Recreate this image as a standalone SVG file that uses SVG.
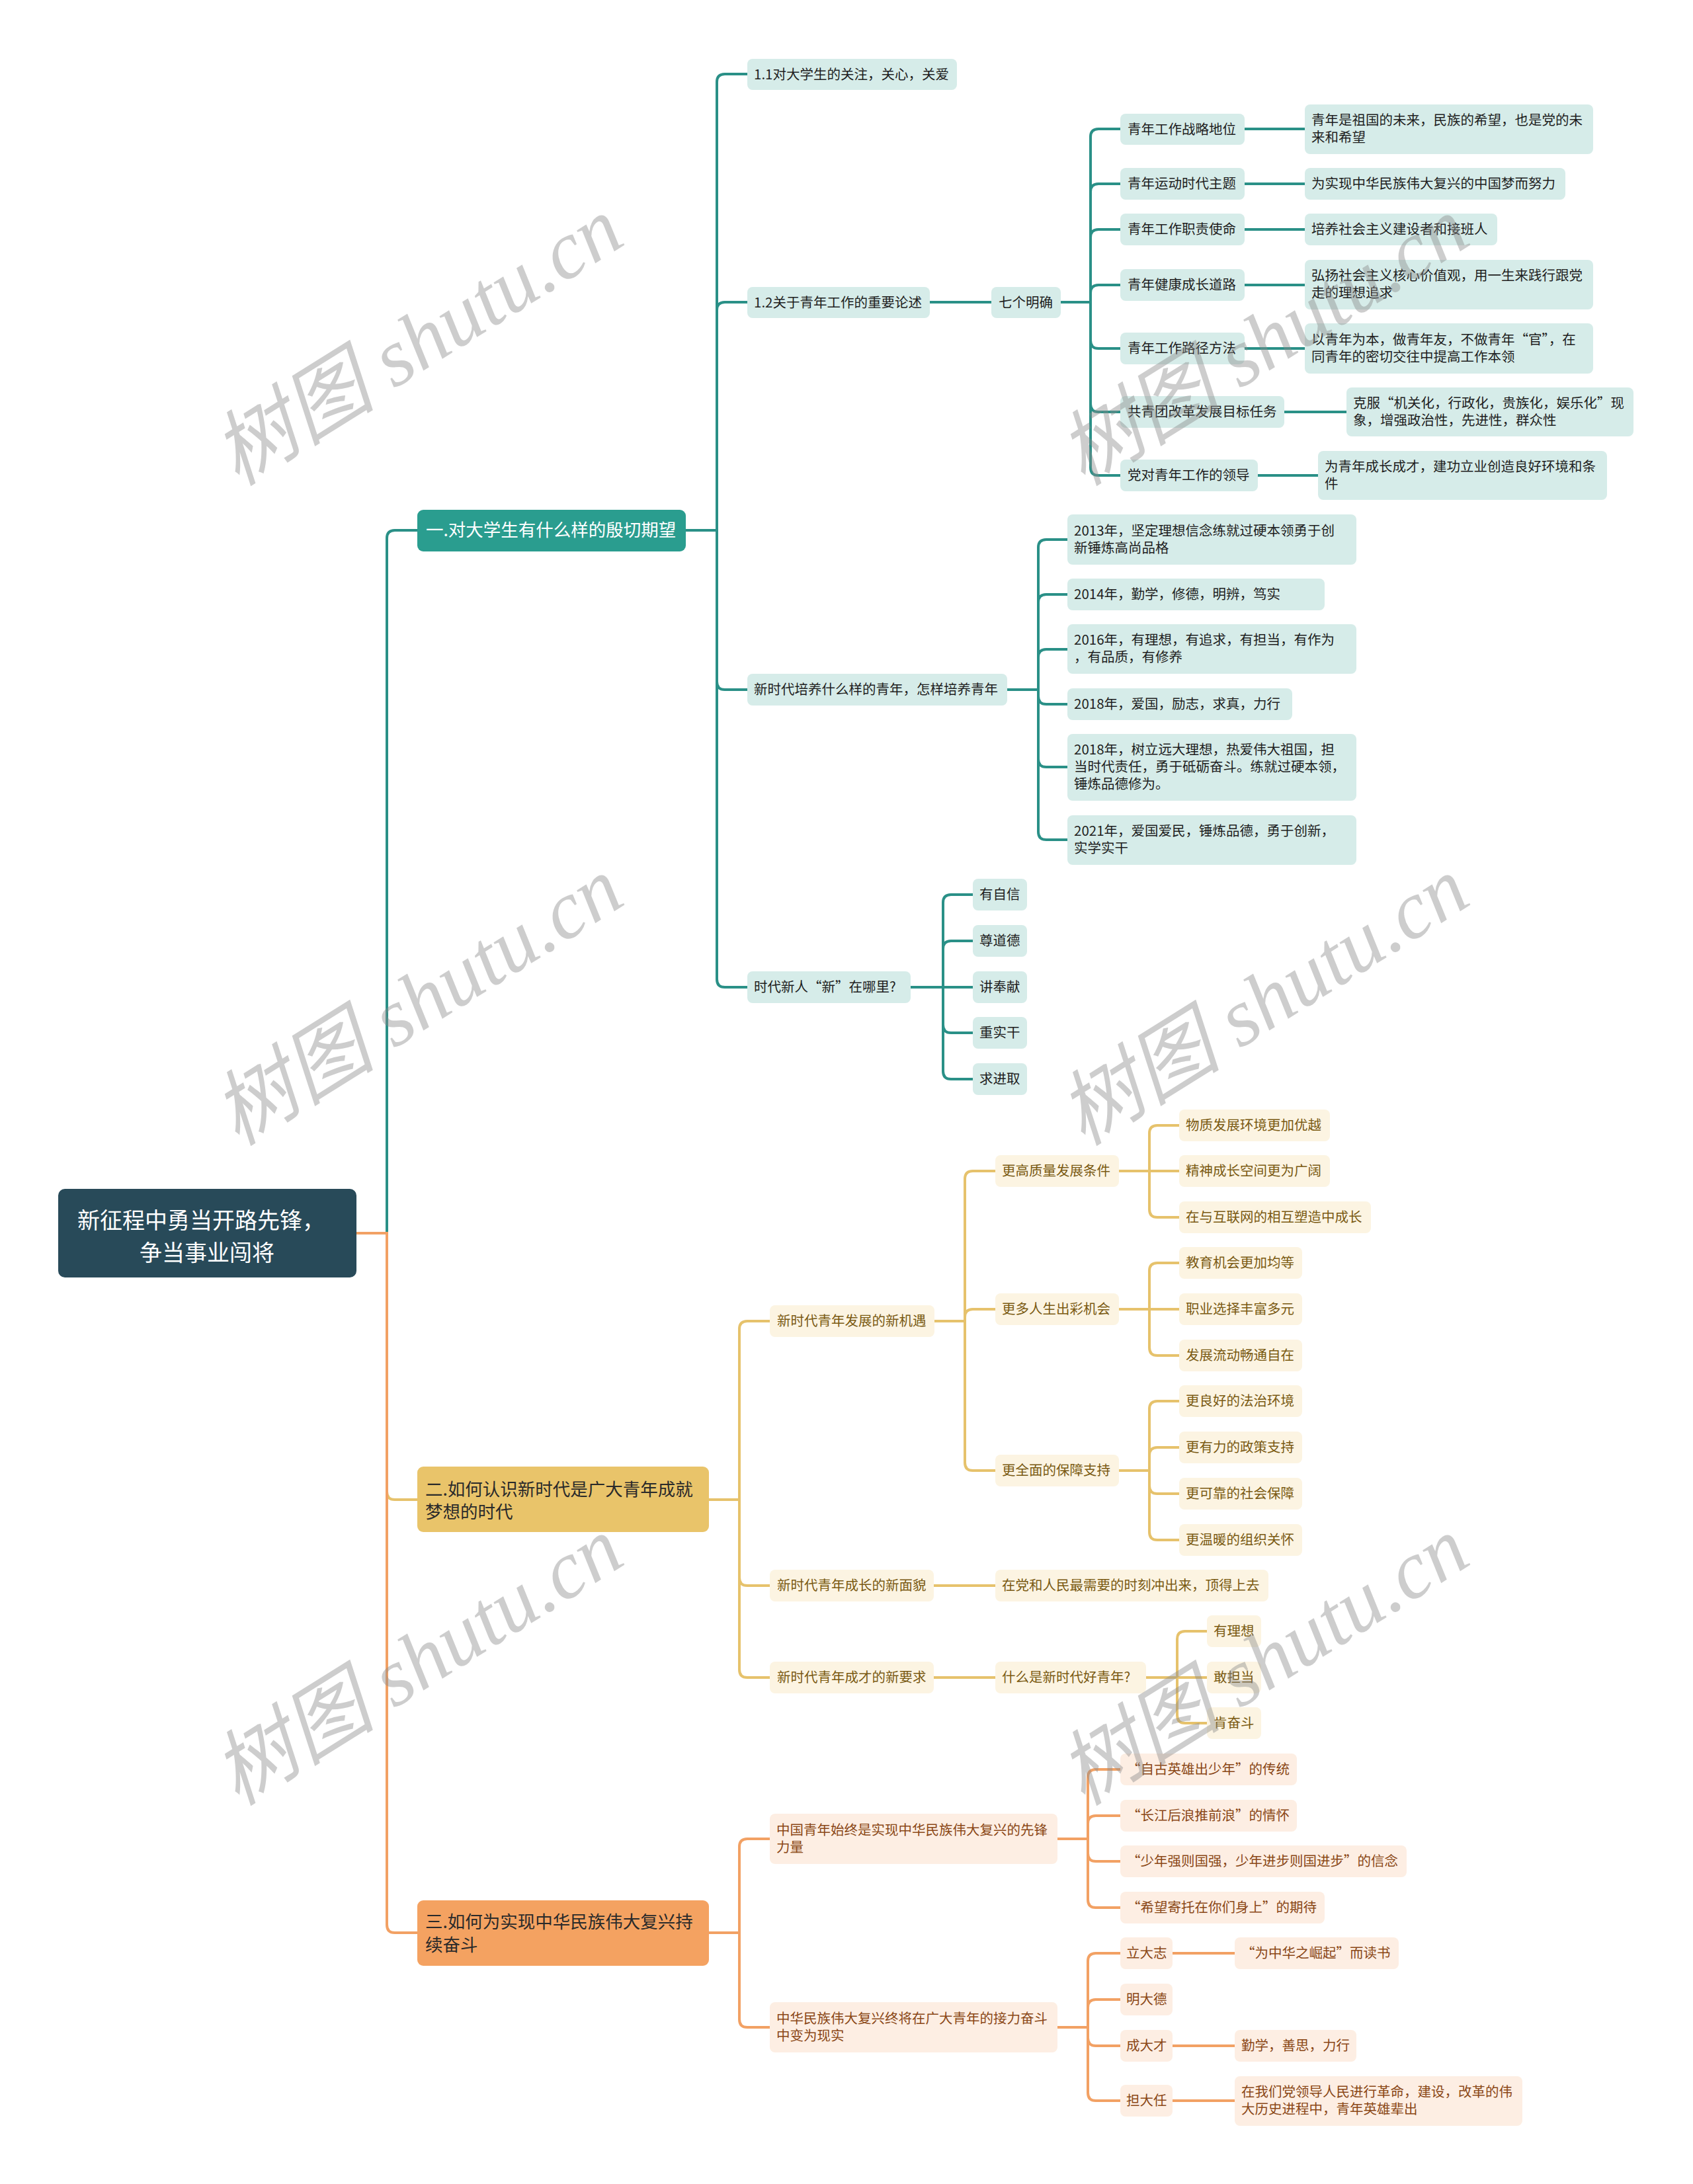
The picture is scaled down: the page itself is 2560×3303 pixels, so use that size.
<svg xmlns="http://www.w3.org/2000/svg" width="2560" height="3303" viewBox="0 0 2560 3303">
<style>
text{font-family:"Noto Sans CJK SC","Noto Sans",sans-serif;font-size:20.5px}
.tl{fill:#d6ece9}.tt{fill:#1e1e1e}
.yl{fill:#fcf4e2}.yt{fill:#7a5a12}
.ol{fill:#fdeee3}.ot{fill:#8a4716}
.lt{fill:none;stroke:#2a9087;stroke-width:4}
.ly{fill:none;stroke:#e6c26c;stroke-width:4}
.lo{fill:none;stroke:#f2a164;stroke-width:4}
.big{font-size:26.5px}
.wm{font-family:"Liberation Serif","Noto Sans CJK SC",serif;font-style:italic;font-size:124px;fill:#8a8a8a;opacity:0.42}
</style>
<rect width="2560" height="3303" fill="#ffffff"/>
<g id="connectors">
<path class="lt" d="M539 1865H585V814Q585 802 597 802H631"/>
<path class="ly" d="M539 1865H585V2256Q585 2268 597 2268H631"/>
<path class="lo" d="M539 1865H585V2911Q585 2923 597 2923H631"/>
<g>
<path class="lt" d="M1037 802H1084V124Q1084 112 1096 112H1130"/>
<path class="lt" d="M1037 802H1084V469Q1084 457 1096 457H1130"/>
<path class="lt" d="M1037 802H1084V1031Q1084 1043 1096 1043H1130"/>
<path class="lt" d="M1037 802H1084V1481Q1084 1493 1096 1493H1130"/>
<path class="lt" d="M1406 457H1499"/>
<path class="lt" d="M1604 457H1649V207Q1649 195 1661 195H1694"/>
<path class="lt" d="M1604 457H1649V290Q1649 278 1661 278H1694"/>
<path class="lt" d="M1604 457H1649V359Q1649 347 1661 347H1694"/>
<path class="lt" d="M1604 457H1649V443Q1649 431 1661 431H1694"/>
<path class="lt" d="M1604 457H1649V515Q1649 527 1661 527H1694"/>
<path class="lt" d="M1604 457H1649V611Q1649 623 1661 623H1694"/>
<path class="lt" d="M1604 457H1649V707Q1649 719 1661 719H1694"/>
<path class="lt" d="M1882 195H1973M1882 278H1973M1882 347H1973M1882 431H1973M1882 527H1973M1942 623H2036M1902 719H1993"/>
<path class="lt" d="M1523 1043H1570V828Q1570 816 1582 816H1614"/>
<path class="lt" d="M1523 1043H1570V911Q1570 899 1582 899H1614"/>
<path class="lt" d="M1523 1043H1570V994Q1570 982 1582 982H1614"/>
<path class="lt" d="M1523 1043H1570V1053Q1570 1065 1582 1065H1614"/>
<path class="lt" d="M1523 1043H1570V1148Q1570 1160 1582 1160H1614"/>
<path class="lt" d="M1523 1043H1570V1258Q1570 1270 1582 1270H1614"/>
<path class="lt" d="M1377 1493H1426V1365Q1426 1353 1438 1353H1471"/>
<path class="lt" d="M1377 1493H1426V1435Q1426 1423 1438 1423H1471"/>
<path class="lt" d="M1377 1493H1471"/>
<path class="lt" d="M1377 1493H1426V1550Q1426 1562 1438 1562H1471"/>
<path class="lt" d="M1377 1493H1426V1620Q1426 1632 1438 1632H1471"/>
</g>
<g>
<path class="ly" d="M1072 2268H1118V2010Q1118 1998 1130 1998H1164"/>
<path class="ly" d="M1072 2268H1118V2386Q1118 2398 1130 2398H1164"/>
<path class="ly" d="M1072 2268H1118V2525Q1118 2537 1130 2537H1164"/>
<path class="ly" d="M1413 1998H1459V1783Q1459 1771 1471 1771H1505"/>
<path class="ly" d="M1413 1998H1459V1992Q1459 1980 1471 1980H1505"/>
<path class="ly" d="M1413 1998H1459V2212Q1459 2224 1471 2224H1505"/>
<path class="ly" d="M1692 1771H1738V1714Q1738 1702 1750 1702H1783"/>
<path class="ly" d="M1692 1771H1783"/>
<path class="ly" d="M1692 1771H1738V1829Q1738 1841 1750 1841H1783"/>
<path class="ly" d="M1692 1980H1738V1922Q1738 1910 1750 1910H1783"/>
<path class="ly" d="M1692 1980H1783"/>
<path class="ly" d="M1692 1980H1738V2038Q1738 2050 1750 2050H1783"/>
<path class="ly" d="M1692 2224H1738V2131Q1738 2119 1750 2119H1783"/>
<path class="ly" d="M1692 2224H1738V2201Q1738 2189 1750 2189H1783"/>
<path class="ly" d="M1692 2224H1738V2247Q1738 2259 1750 2259H1783"/>
<path class="ly" d="M1692 2224H1738V2317Q1738 2329 1750 2329H1783"/>
<path class="ly" d="M1412 2398H1505M1412 2537H1505"/>
<path class="ly" d="M1733 2537H1780V2479Q1780 2467 1792 2467H1825"/>
<path class="ly" d="M1733 2537H1825"/>
<path class="ly" d="M1733 2537H1780V2594Q1780 2606 1792 2606H1825"/>
</g>
<g>
<path class="lo" d="M1072 2923H1118V2793Q1118 2781 1130 2781H1164"/>
<path class="lo" d="M1072 2923H1118V3054Q1118 3066 1130 3066H1164"/>
<path class="lo" d="M1599 2781H1645V2688Q1645 2676 1657 2676H1694"/>
<path class="lo" d="M1599 2781H1645V2758Q1645 2746 1657 2746H1694"/>
<path class="lo" d="M1599 2781H1645V2803Q1645 2815 1657 2815H1694"/>
<path class="lo" d="M1599 2781H1645V2873Q1645 2885 1657 2885H1694"/>
<path class="lo" d="M1599 3066H1645V2966Q1645 2954 1657 2954H1694"/>
<path class="lo" d="M1599 3066H1645V3036Q1645 3024 1657 3024H1694"/>
<path class="lo" d="M1599 3066H1645V3082Q1645 3094 1657 3094H1694"/>
<path class="lo" d="M1599 3066H1645V3165Q1645 3177 1657 3177H1694"/>
<path class="lo" d="M1773 2954H1867M1773 3094H1867M1773 3177H1867"/>
</g>
</g>

<g id="root"><rect x="88" y="1798" width="451" height="134" rx="10" fill="#284a59"/>
<text x="117" y="1858" style="font-size:34px" fill="#ffffff">新征程中勇当开路先锋，</text>
<text x="313" y="1907" style="font-size:34px" fill="#ffffff" text-anchor="middle">争当事业闯将</text></g>

<g id="b1"><rect x="631" y="771" width="406" height="63" rx="9" fill="#2a9d8f"/><text class="big" x="644" y="811" fill="#ffffff">一.对大学生有什么样的殷切期望</text></g>
<g id="b2"><rect x="631" y="2218" width="441" height="99" rx="9" fill="#e9c46a"/><text class="big" x="643" y="2262" fill="#2a2a2a">二.如何认识新时代是广大青年成就</text><text class="big" x="643" y="2296" fill="#2a2a2a">梦想的时代</text></g>
<g id="b3"><rect x="631" y="2874" width="441" height="99" rx="9" fill="#f4a261"/><text class="big" x="643" y="2916" fill="#2a2a2a">三.如何为实现中华民族伟大复兴持</text><text class="big" x="643" y="2951" fill="#2a2a2a">续奋斗</text></g>

<g id="n11"><rect class="tl" x="1130" y="89" width="317" height="47" rx="8"/><text class="tt" x="1140" y="120">1.1对大学生的关注，关心，关爱</text></g>
<g id="n12"><rect class="tl" x="1130" y="434" width="276" height="47" rx="8"/><text class="tt" x="1140" y="465">1.2关于青年工作的重要论述</text></g>
<g id="n7"><rect class="tl" x="1499" y="434" width="105" height="47" rx="8"/><text class="tt" x="1510" y="465">七个明确</text></g>
<g id="a1"><rect class="tl" x="1694" y="172" width="188" height="47" rx="8"/><text class="tt" x="1705" y="203">青年工作战略地位</text></g>
<g id="v1"><rect class="tl" x="1973" y="158" width="436" height="75" rx="8"/><text class="tt" x="1983" y="189">青年是祖国的未来，民族的希望，也是党的未</text><text class="tt" x="1983" y="215">来和希望</text></g>
<g id="a2"><rect class="tl" x="1694" y="254" width="188" height="48" rx="8"/><text class="tt" x="1705" y="285">青年运动时代主题</text></g>
<g id="v2"><rect class="tl" x="1973" y="254" width="394" height="48" rx="8"/><text class="tt" x="1983" y="285">为实现中华民族伟大复兴的中国梦而努力</text></g>
<g id="a3"><rect class="tl" x="1694" y="323" width="188" height="48" rx="8"/><text class="tt" x="1705" y="354">青年工作职责使命</text></g>
<g id="v3"><rect class="tl" x="1973" y="323" width="291" height="48" rx="8"/><text class="tt" x="1983" y="354">培养社会主义建设者和接班人</text></g>
<g id="a4"><rect class="tl" x="1694" y="407" width="188" height="48" rx="8"/><text class="tt" x="1705" y="438">青年健康成长道路</text></g>
<g id="v4"><rect class="tl" x="1973" y="393" width="436" height="75" rx="8"/><text class="tt" x="1983" y="424">弘扬社会主义核心价值观，用一生来践行跟党</text><text class="tt" x="1983" y="450">走的理想追求</text></g>
<g id="a5"><rect class="tl" x="1694" y="503" width="188" height="48" rx="8"/><text class="tt" x="1705" y="534">青年工作路径方法</text></g>
<g id="v5"><rect class="tl" x="1973" y="489" width="436" height="76" rx="8"/><text class="tt" x="1983" y="521">以青年为本，做青年友，不做青年“官”，在</text><text class="tt" x="1983" y="547">同青年的密切交往中提高工作本领</text></g>
<g id="a6"><rect class="tl" x="1694" y="599" width="248" height="48" rx="8"/><text class="tt" x="1705" y="630">共青团改革发展目标任务</text></g>
<g id="v6"><rect class="tl" x="2036" y="586" width="434" height="74" rx="8"/><text class="tt" x="2046" y="617">克服“机关化，行政化，贵族化，娱乐化”现</text><text class="tt" x="2046" y="643">象，增强政治性，先进性，群众性</text></g>
<g id="a7"><rect class="tl" x="1694" y="695" width="208" height="48" rx="8"/><text class="tt" x="1705" y="726">党对青年工作的领导</text></g>
<g id="v7"><rect class="tl" x="1993" y="682" width="437" height="74" rx="8"/><text class="tt" x="2003" y="713">为青年成长成才，建功立业创造良好环境和条</text><text class="tt" x="2003" y="739">件</text></g>
<g id="n13"><rect class="tl" x="1130" y="1019" width="393" height="48" rx="8"/><text class="tt" x="1140" y="1050">新时代培养什么样的青年，怎样培养青年</text></g>
<g id="y1"><rect class="tl" x="1614" y="778" width="437" height="76" rx="8"/><text class="tt" x="1624" y="810">2013年，坚定理想信念练就过硬本领勇于创</text><text class="tt" x="1624" y="836">新锤炼高尚品格</text></g>
<g id="y2"><rect class="tl" x="1614" y="875" width="389" height="48" rx="8"/><text class="tt" x="1624" y="906">2014年，勤学，修德，明辨，笃实</text></g>
<g id="y3"><rect class="tl" x="1614" y="944" width="437" height="75" rx="8"/><text class="tt" x="1624" y="975">2016年，有理想，有追求，有担当，有作为</text><text class="tt" x="1624" y="1001">，有品质，有修养</text></g>
<g id="y4"><rect class="tl" x="1614" y="1041" width="340" height="48" rx="8"/><text class="tt" x="1624" y="1072">2018年，爱国，励志，求真，力行</text></g>
<g id="y5"><rect class="tl" x="1614" y="1110" width="437" height="101" rx="8"/><text class="tt" x="1624" y="1141">2018年，树立远大理想，热爱伟大祖国，担</text><text class="tt" x="1624" y="1167">当时代责任，勇于砥砺奋斗。练就过硬本领，</text><text class="tt" x="1624" y="1193">锤炼品德修为。</text></g>
<g id="y6"><rect class="tl" x="1614" y="1233" width="437" height="75" rx="8"/><text class="tt" x="1624" y="1264">2021年，爱国爱民，锤炼品德，勇于创新，</text><text class="tt" x="1624" y="1290">实学实干</text></g>
<g id="n14"><rect class="tl" x="1130" y="1469" width="247" height="48" rx="8"/><text class="tt" x="1140" y="1500">时代新人“新”在哪里?</text></g>
<g id="q1"><rect class="tl" x="1471" y="1329" width="82" height="48" rx="8"/><text class="tt" x="1481" y="1360">有自信</text></g>
<g id="q2"><rect class="tl" x="1471" y="1399" width="82" height="48" rx="8"/><text class="tt" x="1481" y="1430">尊道德</text></g>
<g id="q3"><rect class="tl" x="1471" y="1469" width="82" height="48" rx="8"/><text class="tt" x="1481" y="1500">讲奉献</text></g>
<g id="q4"><rect class="tl" x="1471" y="1538" width="82" height="48" rx="8"/><text class="tt" x="1481" y="1569">重实干</text></g>
<g id="q5"><rect class="tl" x="1471" y="1608" width="82" height="48" rx="8"/><text class="tt" x="1481" y="1639">求进取</text></g>

<g id="m1"><rect class="yl" x="1164" y="1974" width="249" height="48" rx="8"/><text class="yt" x="1175" y="2005">新时代青年发展的新机遇</text></g>
<g id="m11"><rect class="yl" x="1505" y="1747" width="187" height="48" rx="8"/><text class="yt" x="1515" y="1778">更高质量发展条件</text></g>
<g id="m12"><rect class="yl" x="1505" y="1956" width="187" height="48" rx="8"/><text class="yt" x="1515" y="1987">更多人生出彩机会</text></g>
<g id="m13"><rect class="yl" x="1505" y="2200" width="187" height="48" rx="8"/><text class="yt" x="1515" y="2231">更全面的保障支持</text></g>
<g id="l1"><rect class="yl" x="1783" y="1678" width="228" height="48" rx="8"/><text class="yt" x="1793" y="1709">物质发展环境更加优越</text></g>
<g id="l2"><rect class="yl" x="1783" y="1747" width="228" height="48" rx="8"/><text class="yt" x="1793" y="1778">精神成长空间更为广阔</text></g>
<g id="l3"><rect class="yl" x="1783" y="1817" width="290" height="48" rx="8"/><text class="yt" x="1793" y="1848">在与互联网的相互塑造中成长</text></g>
<g id="l4"><rect class="yl" x="1783" y="1886" width="186" height="48" rx="8"/><text class="yt" x="1793" y="1917">教育机会更加均等</text></g>
<g id="l5"><rect class="yl" x="1783" y="1956" width="186" height="48" rx="8"/><text class="yt" x="1793" y="1987">职业选择丰富多元</text></g>
<g id="l6"><rect class="yl" x="1783" y="2026" width="186" height="48" rx="8"/><text class="yt" x="1793" y="2057">发展流动畅通自在</text></g>
<g id="l7"><rect class="yl" x="1783" y="2095" width="186" height="48" rx="8"/><text class="yt" x="1793" y="2126">更良好的法治环境</text></g>
<g id="l8"><rect class="yl" x="1783" y="2165" width="186" height="48" rx="8"/><text class="yt" x="1793" y="2196">更有力的政策支持</text></g>
<g id="l9"><rect class="yl" x="1783" y="2235" width="186" height="48" rx="8"/><text class="yt" x="1793" y="2266">更可靠的社会保障</text></g>
<g id="l10"><rect class="yl" x="1783" y="2305" width="186" height="48" rx="8"/><text class="yt" x="1793" y="2336">更温暖的组织关怀</text></g>
<g id="m2"><rect class="yl" x="1164" y="2374" width="248" height="48" rx="8"/><text class="yt" x="1175" y="2405">新时代青年成长的新面貌</text></g>
<g id="m2v"><rect class="yl" x="1505" y="2374" width="413" height="48" rx="8"/><text class="yt" x="1515" y="2405">在党和人民最需要的时刻冲出来，顶得上去</text></g>
<g id="m3"><rect class="yl" x="1164" y="2513" width="248" height="48" rx="8"/><text class="yt" x="1175" y="2544">新时代青年成才的新要求</text></g>
<g id="m3q"><rect class="yl" x="1505" y="2513" width="228" height="48" rx="8"/><text class="yt" x="1515" y="2544">什么是新时代好青年?</text></g>
<g id="r1"><rect class="yl" x="1825" y="2443" width="82" height="48" rx="8"/><text class="yt" x="1835" y="2474">有理想</text></g>
<g id="r2"><rect class="yl" x="1825" y="2513" width="82" height="48" rx="8"/><text class="yt" x="1835" y="2544">敢担当</text></g>
<g id="r3"><rect class="yl" x="1825" y="2582" width="82" height="48" rx="8"/><text class="yt" x="1835" y="2613">肯奋斗</text></g>

<g id="o1"><rect class="ol" x="1164" y="2743" width="435" height="76" rx="8"/><text class="ot" x="1174" y="2775">中国青年始终是实现中华民族伟大复兴的先锋</text><text class="ot" x="1174" y="2801">力量</text></g>
<g id="o2"><rect class="ol" x="1164" y="3028" width="435" height="76" rx="8"/><text class="ot" x="1174" y="3060">中华民族伟大复兴终将在广大青年的接力奋斗</text><text class="ot" x="1174" y="3086">中变为现实</text></g>
<g id="p1"><rect class="ol" x="1694" y="2652" width="267" height="48" rx="8"/><text class="ot" x="1704" y="2683">“自古英雄出少年”的传统</text></g>
<g id="p2"><rect class="ol" x="1694" y="2722" width="267" height="48" rx="8"/><text class="ot" x="1704" y="2753">“长江后浪推前浪”的情怀</text></g>
<g id="p3"><rect class="ol" x="1694" y="2791" width="433" height="48" rx="8"/><text class="ot" x="1704" y="2822">“少年强则国强，少年进步则国进步”的信念</text></g>
<g id="p4"><rect class="ol" x="1694" y="2861" width="309" height="48" rx="8"/><text class="ot" x="1704" y="2892">“希望寄托在你们身上”的期待</text></g>
<g id="s1"><rect class="ol" x="1694" y="2930" width="79" height="48" rx="8"/><text class="ot" x="1703" y="2961">立大志</text></g>
<g id="s1v"><rect class="ol" x="1867" y="2930" width="248" height="48" rx="8"/><text class="ot" x="1877" y="2961">“为中华之崛起”而读书</text></g>
<g id="s2"><rect class="ol" x="1694" y="3000" width="79" height="48" rx="8"/><text class="ot" x="1703" y="3031">明大德</text></g>
<g id="s3"><rect class="ol" x="1694" y="3070" width="79" height="48" rx="8"/><text class="ot" x="1703" y="3101">成大才</text></g>
<g id="s3v"><rect class="ol" x="1867" y="3070" width="184" height="48" rx="8"/><text class="ot" x="1877" y="3101">勤学，善思，力行</text></g>
<g id="s4"><rect class="ol" x="1694" y="3153" width="79" height="48" rx="8"/><text class="ot" x="1703" y="3184">担大任</text></g>
<g id="s4v"><rect class="ol" x="1867" y="3140" width="435" height="75" rx="8"/><text class="ot" x="1877" y="3171">在我们党领导人民进行革命，建设，改革的伟</text><text class="ot" x="1877" y="3197">大历史进程中，青年英雄辈出</text></g>

<g id="watermarks">
<text class="wm" text-anchor="middle" transform="translate(654 552) rotate(-32)">树图 shutu.cn</text>
<text class="wm" text-anchor="middle" transform="translate(654 1550) rotate(-32)">树图 shutu.cn</text>
<text class="wm" text-anchor="middle" transform="translate(654 2548) rotate(-32)">树图 shutu.cn</text>
<text class="wm" text-anchor="middle" transform="translate(1933 552) rotate(-32)">树图 shutu.cn</text>
<text class="wm" text-anchor="middle" transform="translate(1933 1550) rotate(-32)">树图 shutu.cn</text>
<text class="wm" text-anchor="middle" transform="translate(1933 2548) rotate(-32)">树图 shutu.cn</text>
</g>
</svg>
